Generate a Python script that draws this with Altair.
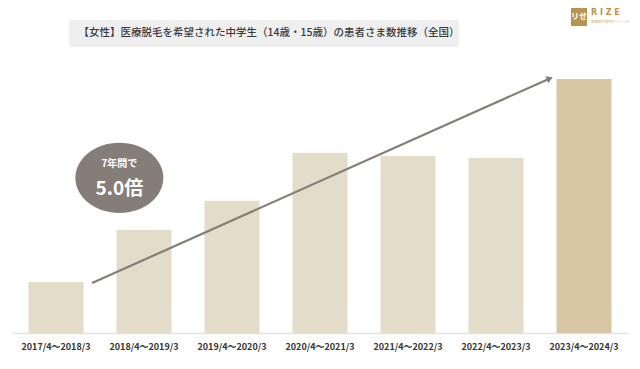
import altair as alt
import pandas as pd

# ---- data ----
periods = ["2017/4～2018/3", "2018/4～2019/3", "2019/4～2020/3", "2020/4～2021/3",
           "2021/4～2022/3", "2022/4～2023/3", "2023/4～2024/3"]
patients = [100, 202, 259, 353, 347, 343, 498]
highlight = ["past", "past", "past", "past", "past", "past", "latest"]

title_text = "【女性】医療脱毛を希望された中学生（14歳・15歳）の患者さま数推移（全国）"
badge_small = "7年間で"
badge_big = "5.0倍"

arrow_x = [0.41, 5.60]
arrow_y = [98, 498]

bars_df = pd.DataFrame({"period": periods, "value": patients, "kind": highlight})
arrow_df = pd.DataFrame({"x": [arrow_x[0]], "y": [arrow_y[0]], "x2": [arrow_x[1]], "y2": [arrow_y[1]]})
head_df = pd.DataFrame({"x": [arrow_x[1]], "y": [arrow_y[1]]})
badge_df = pd.DataFrame({"x": [0.72], "y": [304]})
badge_txt_df = pd.DataFrame({"x": [0.72, 0.72], "y": [331, 282], "t": [badge_small, badge_big], "s": ["small", "big"]})

W, H = 616, 273
ymax = 535
ydom = alt.Scale(domain=[0, ymax], nice=False, zero=True)
xq = alt.Scale(domain=[-0.5, 6.5], nice=False, zero=False)

bars = alt.Chart(bars_df).mark_bar().encode(
    x=alt.X("period:N", sort=periods,
            scale=alt.Scale(paddingInner=0.375, paddingOuter=0.1875),
            axis=alt.Axis(title=None, ticks=False, labelAngle=0, labelFontWeight="bold",
                          labelFont="Noto Sans CJK JP", labelFontSize=9, labelColor="#333333",
                          labelPadding=9, domainColor="#e2e2e2", domainWidth=1.5)),
    y=alt.Y("value:Q", scale=ydom, axis=None),
    color=alt.Color("kind:N", scale=alt.Scale(domain=["past", "latest"], range=["#e3dcc8", "#d6c7a2"]),
                    legend=None),
)

arrow = alt.Chart(arrow_df).mark_rule(color="#857e78", strokeWidth=2.2).encode(
    x=alt.X("x:Q", scale=xq, axis=None), y=alt.Y("y:Q", scale=ydom, axis=None),
    x2="x2:Q", y2="y2:Q",
)
head = alt.Chart(head_df).mark_point(shape="triangle", angle=66, size=55, filled=True,
                                     color="#857e78", opacity=1).encode(
    x=alt.X("x:Q", scale=xq, axis=None), y=alt.Y("y:Q", scale=ydom, axis=None),
)

ellipse_path = "M-1,0A1,0.8,0,1,0,1,0A1,0.8,0,1,0,-1,0Z"
badge = alt.Chart(badge_df).mark_point(shape=ellipse_path, size=7744, filled=True,
                                       color="#857e78", opacity=1).encode(
    x=alt.X("x:Q", scale=xq, axis=None), y=alt.Y("y:Q", scale=ydom, axis=None),
)
badge_small_t = alt.Chart(badge_txt_df[badge_txt_df.s == "small"]).mark_text(
    color="white", font="Noto Sans CJK JP", fontWeight="bold", fontSize=10).encode(
    x=alt.X("x:Q", scale=xq, axis=None), y=alt.Y("y:Q", scale=ydom, axis=None), text="t:N")
badge_big_t = alt.Chart(badge_txt_df[badge_txt_df.s == "big"]).mark_text(
    color="white", font="Noto Sans CJK JP", fontWeight="bold", fontSize=19).encode(
    x=alt.X("x:Q", scale=xq, axis=None), y=alt.Y("y:Q", scale=ydom, axis=None), text="t:N")

title_bg = alt.Chart(pd.DataFrame({"a": [0]})).mark_rect(color="#efefef", clip=False).encode(
    x=alt.value(57), x2=alt.value(447), y=alt.value(-40), y2=alt.value(-13))
title_t = alt.Chart(pd.DataFrame({"t": [title_text]})).mark_text(
    color="#3a3a3a", font="Noto Sans CJK JP", fontSize=10.5, fontWeight=500, baseline="middle",
    clip=False).encode(
    x=alt.value(257), y=alt.value(-27), text="t:N")

logo_box = alt.Chart(pd.DataFrame({"a": [0]})).mark_rect(color="#b8934e", clip=False).encode(
    x=alt.value(559), x2=alt.value(575), y=alt.value(-52), y2=alt.value(-34))
logo_glyph = alt.Chart(pd.DataFrame({"t": ["リせ"]})).mark_text(
    color="white", font="Noto Sans CJK JP", fontSize=8, fontWeight="bold", clip=False).encode(
    x=alt.value(567), y=alt.value(-43), text="t:N")
logo_name = alt.Chart(pd.DataFrame({"t": ["R I Z E"]})).mark_text(
    color="#b8934e", font="DejaVu Sans", fontSize=8, fontWeight="bold", align="left", clip=False).encode(
    x=alt.value(579), y=alt.value(-47), text="t:N")
logo_sub = alt.Chart(pd.DataFrame({"t": ["医療脱毛専門クリニック"]})).mark_text(
    color="#c9ad78", font="Noto Sans CJK JP", fontSize=3.5, align="left", clip=False).encode(
    x=alt.value(579), y=alt.value(-38), text="t:N")

chart = alt.layer(
    bars, arrow, head, badge, badge_small_t, badge_big_t,
    title_bg, title_t, logo_box, logo_glyph, logo_name, logo_sub
).resolve_scale(x="independent").properties(
    width=W, height=H,
    autosize=alt.AutoSizeParams(type="none"),
    padding={"left": 4, "top": 52, "right": 4, "bottom": 28},
    background="white",
).configure_view(stroke=None)

chart.save("out.html", embed_options={"renderer": "svg", "actions": False})
